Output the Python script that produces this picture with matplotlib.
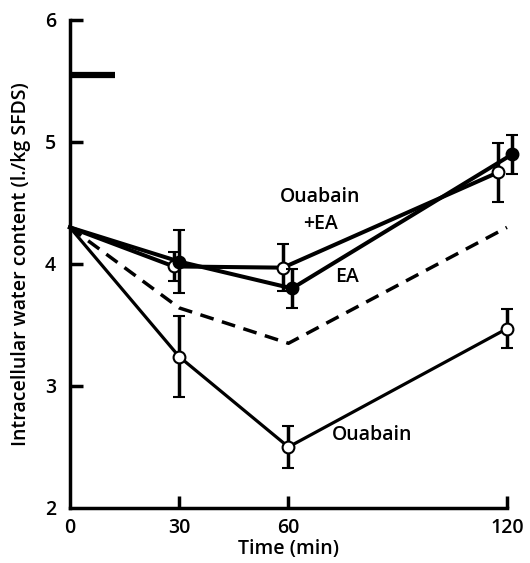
import matplotlib.pyplot as plt

# time points (min)
t = [0, 30, 60, 120]

# Ouabain + EA (open circles)
oea = [4.3, 3.98, 3.97, 4.75]
oea_err = [0, 0.12, 0.19, 0.24]
# EA (filled circles)
ea = [4.3, 4.02, 3.8, 4.9]
ea_err = [0, 0.26, 0.16, 0.16]
# Ouabain (open circles)
oua = [4.3, 3.24, 2.5, 3.47]
oua_err = [0, 0.33, 0.17, 0.16]
# dashed reference line
dash = [4.3, 3.64, 3.35, 4.3]

# thick bar at top left
bar_x = [0, 12.5]
bar_y = [5.55, 5.55]

plt.rcParams['font.family'] = ['Open Sans', 'DejaVu Sans']
plt.rcParams['font.weight'] = 'semibold'
plt.rcParams['axes.labelweight'] = 'semibold'
fig = plt.figure(figsize=(5.3, 5.63), dpi=100)
ax = fig.add_axes([0.132, 0.0977, 0.8245, 0.8668])

ax.plot(bar_x, bar_y, color='black', linewidth=4.5, solid_capstyle='butt', clip_on=False)
ax.plot(t, dash, color='black', linewidth=2.5, linestyle=(0, (4, 2.5)), clip_on=False)

ax.plot(t, oua, color='black', linewidth=2.3, zorder=3, clip_on=False)
ax.errorbar(t[1:], oua[1:], yerr=oua_err[1:], fmt='o', color='black', mfc='white', mec='black',
            ms=8.5, mew=1.5, elinewidth=2.5, capsize=4, capthick=2.5, zorder=4, clip_on=False)

# slight horizontal offsets as drawn in the figure
oea_x = [0, 28.5, 58.5, 117.5]
ea_x = [0, 30, 61, 121.5]
ax.plot(oea_x, oea, color='black', linewidth=2.9, zorder=3, clip_on=False)
ax.plot(ea_x, ea, color='black', linewidth=2.9, zorder=3, clip_on=False)
ax.errorbar(oea_x[1:], oea[1:], yerr=oea_err[1:], fmt='o', color='black', mfc='white', mec='black',
            ms=8.5, mew=1.5, elinewidth=2.5, capsize=4, capthick=2.5, zorder=4, clip_on=False)
ax.errorbar(ea_x[1:], ea[1:], yerr=ea_err[1:], fmt='o', color='black', mfc='black', mec='black',
            ms=8.5, mew=1.5, elinewidth=2.5, capsize=4, capthick=2.5, zorder=5, clip_on=False)

ax.text(68.7, 4.44, 'Ouabain\n+EA', fontsize=14, ha='center', va='center', linespacing=1.45)
ax.text(76, 3.89, 'EA', fontsize=14, ha='center', va='center')
ax.text(83, 2.6, 'Ouabain', fontsize=14, ha='center', va='center')

ax.set_xlim(0, 120)
ax.set_ylim(2, 6)
ax.set_xticks(t)
ax.set_yticks([2, 3, 4, 5, 6])
ax.tick_params(direction='in', length=9, width=2.5, labelsize=14)
ax.tick_params(axis='x', pad=7)
ax.tick_params(axis='y', pad=10)
ax.xaxis.get_major_ticks()[0].tick1line.set_visible(False)
ax.yaxis.get_major_ticks()[0].tick1line.set_visible(False)
for s in ['top', 'right']:
    ax.spines[s].set_visible(False)
for s in ['left', 'bottom']:
    ax.spines[s].set_linewidth(2.5)
ax.set_xlabel('Time (min)', fontsize=14, labelpad=1)
ax.set_ylabel('Intracellular water content (l./kg SFDS)', fontsize=14, labelpad=10)

fig.savefig('out.png', dpi=100)
